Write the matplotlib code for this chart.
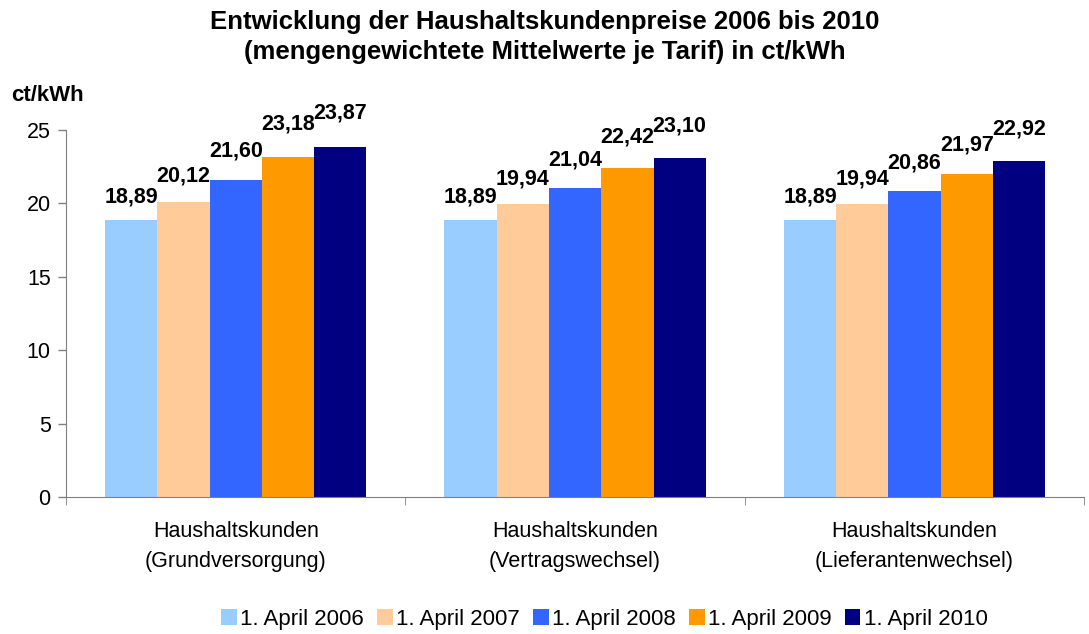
import numpy as np
import matplotlib.pyplot as plt

plt.rcParams['font.family'] = ['Liberation Sans', 'DejaVu Sans']

categories = ["Haushaltskunden\n(Grundversorgung)", "Haushaltskunden\n(Vertragswechsel)",
              "Haushaltskunden\n(Lieferantenwechsel)"]
series = ["1. April 2006", "1. April 2007", "1. April 2008", "1. April 2009", "1. April 2010"]
values = [
    [18.89, 18.89, 18.89],
    [20.12, 19.94, 19.94],
    [21.60, 21.04, 20.86],
    [23.18, 22.42, 21.97],
    [23.87, 23.10, 22.92],
]
colors = ["#99CCFF", "#FFCC99", "#3366FF", "#FF9900", "#000080"]

fig = plt.figure(figsize=(10.89, 6.34), dpi=100)
ax = fig.add_axes([0.0606, 0.216, 0.935, 0.579])

x = np.arange(len(categories))
w = 0.154
for i, (name, vals, c) in enumerate(zip(series, values, colors)):
    pos = x + (i - 2) * w
    ax.bar(pos, vals, w, color=c, label=name, zorder=2)
    for p, v in zip(pos, vals):
        # labels sit a bit higher over the taller bars, as in the original
        ax.text(p, v + 0.85 + 0.15 * (v - 18.89), f"{v:.2f}".replace(".", ","),
                ha="center", va="bottom", fontsize=15.5, fontweight="bold")

ax.set_xlim(-0.5, 2.5)
ax.set_ylim(0, 25)
ax.set_yticks([0, 5, 10, 15, 20, 25])
ax.tick_params(axis="y", labelsize=15.5, direction="out", length=6, width=1, color="#808080", pad=5)
ax.set_xticks(x)
ax.set_xticklabels(categories, fontsize=15.5, linespacing=1.6)
ax.tick_params(axis="x", which="major", length=0, pad=17)
ax.set_xticks([-0.5, 0.5, 1.5, 2.5], minor=True)
ax.tick_params(axis="x", which="minor", length=6, color="#808080")
for s in ["top", "right"]:
    ax.spines[s].set_visible(False)
ax.spines["left"].set_color("#808080")
ax.spines["bottom"].set_color("#808080")

ax.text(-0.054, 1.065, "ct/kWh", transform=ax.transAxes, fontsize=16, fontweight="bold",
        ha="left", va="bottom")
fig.suptitle("Entwicklung der Haushaltskundenpreise 2006 bis 2010\n(mengengewichtete Mittelwerte je Tarif) in ct/kWh",
             fontsize=18.5, fontweight="bold", y=0.985, linespacing=1.35)

fig.legend(loc="lower center", bbox_to_anchor=(0.555, -0.025), ncol=5, frameon=False,
           fontsize=16, handlelength=0.7, handleheight=0.7, handletextpad=0.15, columnspacing=0.6)

fig.savefig("out.png", dpi=100)
